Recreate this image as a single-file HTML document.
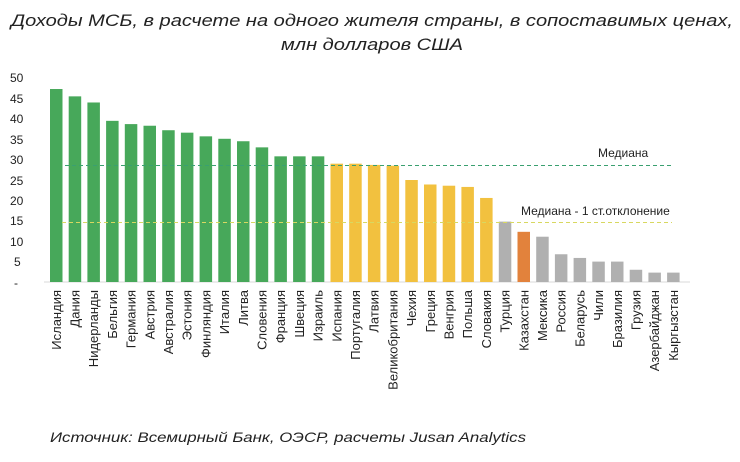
<!DOCTYPE html>
<html><head><meta charset="utf-8"><style>
html,body{margin:0;padding:0;background:#fff;}
svg{display:block;}
text{font-family:"Liberation Sans",sans-serif;fill:#222;}
</style></head><body>
<svg width="740" height="462" viewBox="0 0 740 462" xmlns="http://www.w3.org/2000/svg">
<text x="372" y="26" text-anchor="middle" font-size="17" font-style="italic" textLength="722" lengthAdjust="spacingAndGlyphs">Доходы МСБ, в расчете на одного жителя страны, в сопоставимых ценах,</text>
<text x="372" y="50" text-anchor="middle" font-size="17" font-style="italic" textLength="182" lengthAdjust="spacingAndGlyphs">млн долларов США</text>
<g font-size="12" fill="#333" text-anchor="start">
<text x="10" y="82">50</text><text x="10" y="103">45</text><text x="10" y="123">40</text><text x="10" y="144">35</text><text x="10" y="164">30</text><text x="10" y="185">25</text><text x="10" y="205">20</text><text x="10" y="225">15</text><text x="10" y="246">10</text><text x="14" y="266">5</text><text x="14" y="287">-</text>
</g>
<line x1="44" y1="282" x2="690" y2="282" stroke="#d8d8d8" stroke-width="1"/>
<g id="bars"></g>
<line x1="65" y1="165.5" x2="672" y2="165.5" stroke="#3aa070" stroke-width="1" stroke-dasharray="4,3"/>
<line x1="62" y1="222.5" x2="672" y2="222.5" stroke="#d8d860" stroke-width="1" stroke-dasharray="4,3"/>
<text x="598" y="157" font-size="12">Медиана</text>
<text x="521" y="215" font-size="12">Медиана - 1 ст.отклонение</text>
<g id="labels" font-size="13"></g>
<text x="50" y="442" font-size="14" font-style="italic" textLength="476" lengthAdjust="spacingAndGlyphs">Источник: Всемирный Банк, ОЭСР, расчеты Jusan Analytics</text>
<script>
var d=[["Исландия",47.3,"g"],["Дания",45.5,"g"],["Нидерланды",44,"g"],["Бельгия",39.5,"g"],["Германия",38.7,"g"],["Австрия",38.3,"g"],["Австралия",37.2,"g"],["Эстония",36.6,"g"],["Финляндия",35.7,"g"],["Италия",35.1,"g"],["Литва",34.5,"g"],["Словения",33,"g"],["Франция",30.8,"g"],["Швеция",30.8,"g"],["Израиль",30.8,"g"],["Испания",29,"y"],["Португалия",29,"y"],["Латвия",28.7,"y"],["Великобритания",28.5,"y"],["Чехия",25,"y"],["Греция",23.9,"y"],["Венгрия",23.6,"y"],["Польша",23.3,"y"],["Словакия",20.6,"y"],["Турция",14.8,"s"],["Казахстан",12.3,"o"],["Мексика",11.1,"s"],["Россия",6.8,"s"],["Беларусь",5.9,"s"],["Чили",5,"s"],["Бразилия",5,"s"],["Грузия",3,"s"],["Азербайджан",2.3,"s"],["Кыргызстан",2.3,"s"]];
var col={g:"#47a85a",y:"#f2c13f",s:"#b0b0b0",o:"#e2823c"};
var NS="http://www.w3.org/2000/svg",b=document.getElementById("bars"),l=document.getElementById("labels");
d.forEach(function(e,i){var x=50+i*18.7,h=e[1]*4.08;
var r=document.createElementNS(NS,"rect");r.setAttribute("x",x);r.setAttribute("y",282-h);r.setAttribute("width",12.5);r.setAttribute("height",h);r.setAttribute("fill",col[e[2]]);b.appendChild(r);
var t=document.createElementNS(NS,"text");var cx=x+6.25+4.5,cy=290;t.setAttribute("x",cx);t.setAttribute("y",cy);t.setAttribute("text-anchor","end");t.setAttribute("transform","rotate(-90 "+cx+" "+cy+")");t.textContent=e[0];l.appendChild(t);});
</script>
</svg>
</body></html>
